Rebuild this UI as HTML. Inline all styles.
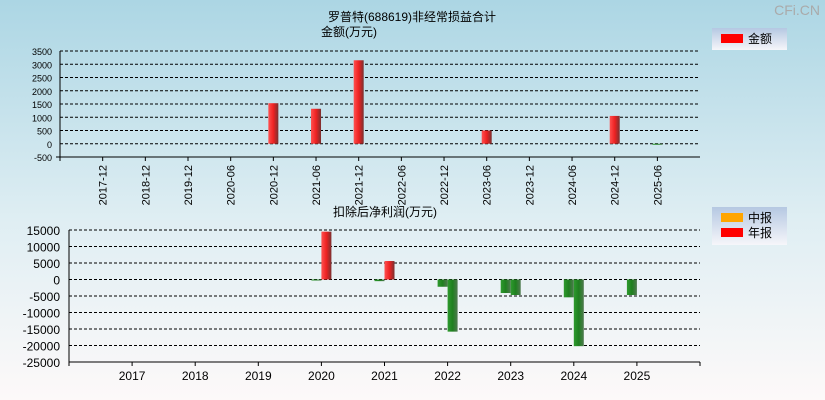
<!DOCTYPE html>
<html><head><meta charset="utf-8"><style>
body{margin:0;width:825px;height:400px;overflow:hidden;font-family:"Liberation Sans","Noto Sans CJK SC",sans-serif}
#bg{position:absolute;left:0;top:0;width:825px;height:400px;background:linear-gradient(#acd6e4,#dfeef3 55%,#fdf9f9)}
</style></head><body>
<div id="bg"></div>
<svg id="c" width="825" height="400" style="position:absolute;left:0;top:0">
<defs>
<linearGradient id="gr" x1="0" x2="1"><stop offset="0" stop-color="#ff5050"/><stop offset="0.5" stop-color="#ee2222"/><stop offset="1" stop-color="#7a3030"/></linearGradient>
<linearGradient id="gg" x1="0" x2="1"><stop offset="0" stop-color="#2e9a2e"/><stop offset="0.5" stop-color="#1f7f1f"/><stop offset="1" stop-color="#4f7a4f"/></linearGradient>
<linearGradient id="lg" x1="0" y1="0" x2="0" y2="1"><stop offset="0" stop-color="#b5c8e2"/><stop offset="1" stop-color="#f6f6fa"/></linearGradient>
</defs>
<text x="412" y="21" font-size="12" text-anchor="middle">罗普特(688619)非经常损益合计</text>
<text x="349" y="36" font-size="12" text-anchor="middle">金额(万元)</text>
<text x="820" y="15" font-size="14" fill="#aaa" text-anchor="end">CFi.CN</text>
<text x="385" y="216" font-size="12" text-anchor="middle">扣除后净利润(万元)</text>
<g><rect x="712" y="28" width="75" height="22" fill="url(#lg)"/><rect x="721" y="34" width="22" height="9" fill="#f00"/><text x="748" y="43" font-size="12">金额</text></g>
<g><rect x="712" y="207" width="75" height="38" fill="url(#lg)"/><rect x="721" y="213" width="22" height="9" fill="#ffa500"/><text x="748" y="222" font-size="12">中报</text><rect x="721" y="228" width="22" height="9" fill="#f00"/><text x="748" y="237" font-size="12">年报</text></g>
</svg>
<script>
const topCats=["2017-12","2018-12","2019-12","2020-06","2020-12","2021-06","2021-12","2022-06","2022-12","2023-06","2023-12","2024-06","2024-12","2025-06"];
const topVals=[0,0,0,0,1530,1320,3150,0,0,500,0,0,1050,-30];
const topTicks=[3500,3000,2500,2000,1500,1000,500,0,-500];
const botCats=["2017","2018","2019","2020","2021","2022","2023","2024","2025"];
const botMid=[0,0,0,-200,-500,-2200,-4100,-5400,-4700];
const botAnnual=[0,0,0,14500,5600,-15800,-4700,-20200,null];
const botTicks=[15000,10000,5000,0,-5000,-10000,-15000,-20000,-25000];
const svg=document.getElementById('c');const NS='http://www.w3.org/2000/svg';
function mk(t,a,p){const e=document.createElementNS(NS,t);for(const k in a)e.setAttribute(k,a[k]);(p||svg).appendChild(e);return e;}
// top
const tx=i=>60+42.67*(i+1), ty=v=>51+(3500-v)*(106/4000);
topTicks.forEach(v=>{const y=ty(v);
const l=mk('line',{x1:60,x2:700,y1:y,y2:y,stroke:'#000','stroke-dasharray':'3,2','stroke-width':1});


const t=mk('text',{x:52,y:y+4,'font-size':9,'text-anchor':'end'});t.textContent=v;

});
mk('line',{x1:60,x2:60,y1:51,y2:161,stroke:'#000'});
mk('line',{x1:56,x2:700,y1:157,y2:157,stroke:'#000'});
topCats.forEach((c,i)=>{const x=tx(i);
mk('line',{x1:x,x2:x,y1:157,y2:161,stroke:'#000'});
const t=mk('text',{x:0,y:0,'font-size':11,'text-anchor':'end',transform:`translate(${x+4},165) rotate(-90)`});t.textContent=c;


const v=topVals[i];if(v){const y0=ty(0),y1=ty(v);
const r=mk('rect',{x:x-5,y:Math.min(y0,y1),width:10,height:Math.max(1,Math.abs(y1-y0)),fill:v>0?'url(#gr)':'url(#gg)'});

}});
// bottom
const bx=i=>69+63.1*(i+1), by=v=>230+(15000-v)*(132/40000);
botTicks.forEach(v=>{const y=by(v);
const l=mk('line',{x1:69,x2:700,y1:y,y2:y,stroke:'#000','stroke-dasharray':'3,2','stroke-width':1});


const t=mk('text',{x:60,y:y+5,'font-size':12,'text-anchor':'end'});t.textContent=v;

});
mk('line',{x1:69,x2:69,y1:230,y2:366,stroke:'#000'});
mk('line',{x1:69,x2:700,y1:362,y2:362,stroke:'#000'});
mk('line',{x1:700,x2:700,y1:362,y2:366,stroke:'#000'});
botCats.forEach((c,i)=>{const x=bx(i);
mk('line',{x1:x,x2:x,y1:362,y2:366,stroke:'#000'});
const t=mk('text',{x:x,y:380,'font-size':12,'text-anchor':'middle'});t.textContent=c;


[[botMid[i],x-10,'mid'],[botAnnual[i],x,'annual']].forEach(([v,x0,k])=>{if(!v)return;
const y0=by(0),y1=by(v);
const r=mk('rect',{x:x0,y:Math.min(y0,y1),width:10,height:Math.max(1,Math.abs(y1-y0)),fill:v>0?'url(#gr)':'url(#gg)'});

});});
</script>
</body></html>
